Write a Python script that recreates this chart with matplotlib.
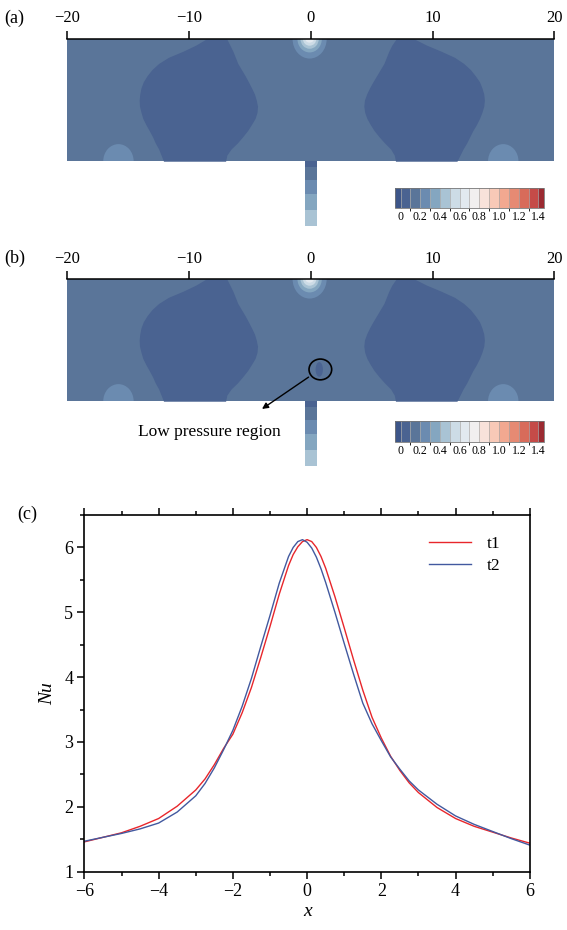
import matplotlib
matplotlib.use('Agg')
import matplotlib.pyplot as plt
from matplotlib.colors import ListedColormap, BoundaryNorm
from matplotlib.patches import Ellipse, Rectangle
from matplotlib.cm import ScalarMappable
from matplotlib.ticker import MultipleLocator

plt.rcParams['font.family'] = ['Liberation Serif', 'DejaVu Serif']

# pressure colour scale
levels = [0.0, 0.1, 0.2, 0.3, 0.4, 0.5, 0.6, 0.7, 0.8, 0.9, 1.0, 1.1, 1.2, 1.3, 1.4]
level_colors = ['#4a6391', '#5a7599', '#6b8bb0', '#84a6c0', '#a9c3d4', '#cddce6', '#e2e9ef',
                '#f1efef', '#f8e2da', '#f8c9b7', '#f2a890', '#e68a73', '#d86b5a', '#c54b48']
under_color = '#3d5689'
over_color = '#9b2a31'
cbar_ticks = [0, 0.2, 0.4, 0.6, 0.8, 1.0, 1.2, 1.4]
cbar_labels = ['0', '0.2', '0.4', '0.6', '0.8', '1.0', '1.2', '1.4']

# pressure field of (a) and (b), read as regions of constant level
domain_x = [-20, 20]
domain_h = 10
background_p = 0.15

jet_x = [-0.5, 0.5]
jet_edges = [0, -0.5, -1.5, -2.7, -4.0, -5.3]
jet_p = [0.05, 0.15, 0.25, 0.35, 0.45]

lobe_p = 0.05
lobe_y = [0.0, 0.5, 1.0, 1.5, 2.0, 2.5, 3.0, 3.5, 4.0, 4.5, 5.0,
          5.5, 6.0, 6.5, 7.0, 7.5, 8.0, 8.5, 9.0, 9.5, 10.0]
left_lobe_xl = [-12.1, -12.3, -12.5, -12.78, -13.0, -13.27, -13.55, -13.8, -13.95, -14.07, -14.1,
                -14.05, -13.95, -13.76, -13.45, -13.05, -12.5, -11.7, -10.5, -9.45, -8.6]
left_lobe_xr = [-7.0, -6.9, -6.55, -6.03, -5.6, -5.2, -4.88, -4.58, -4.42, -4.38, -4.48,
                -4.63, -4.87, -5.13, -5.4, -5.7, -6.0, -6.2, -6.4, -6.65, -6.9]
right_lobe_xl = [6.95, 6.85, 6.55, 6.05, 5.6, 5.2, 4.88, 4.6, 4.42, 4.35, 4.4,
                 4.58, 4.82, 5.1, 5.4, 5.7, 6.0, 6.2, 6.4, 6.65, 7.0]
right_lobe_xr = [12.0, 12.25, 12.5, 12.8, 13.05, 13.3, 13.6, 13.85, 14.05, 14.2, 14.25,
                 14.2, 14.05, 13.85, 13.5, 13.1, 12.55, 11.8, 10.7, 9.5, 8.5]

corner_x = [-15.8, 15.8]
corner_w = 2.5
corner_h = 2.8
corner_p = 0.25

stag_x = -0.1
stag_w = [2.8, 2.0, 1.5, 1.1, 0.7]
stag_h = [3.2, 2.2, 1.6, 1.1, 0.6]
stag_p = [0.25, 0.35, 0.45, 0.55, 0.65]

low_x, low_y = 0.69, 2.6
low_w, low_h = 0.6, 1.2
low_p = 0.05

# Nu along the wall (c)
nu_x = [-6, -5.5, -5, -4.5, -4, -3.5, -3, -2.75, -2.5, -2.25, -2, -1.75, -1.5, -1.25, -1, -0.75,
        -0.5, -0.375, -0.25, -0.125, 0, 0.125, 0.25, 0.375, 0.5, 0.75, 1, 1.25, 1.5, 1.75,
        2, 2.25, 2.5, 2.75, 3, 3.5, 4, 4.5, 5, 5.5, 6]
nu_t1 = [1.46, 1.53, 1.60, 1.70, 1.82, 2.01, 2.26, 2.43, 2.65, 2.90, 3.12, 3.45, 3.84, 4.30, 4.78, 5.28,
         5.72, 5.89, 6.01, 6.09, 6.12, 6.09, 6.00, 5.86, 5.68, 5.24, 4.76, 4.27, 3.80, 3.38,
         3.06, 2.78, 2.56, 2.37, 2.22, 1.99, 1.82, 1.70, 1.61, 1.52, 1.44]
nu_t2 = [1.47, 1.53, 1.59, 1.66, 1.75, 1.92, 2.17, 2.36, 2.60, 2.88, 3.18, 3.55, 3.98, 4.47, 4.95, 5.45,
         5.86, 6.00, 6.09, 6.12, 6.08, 5.99, 5.85, 5.67, 5.46, 5.00, 4.52, 4.05, 3.60, 3.28,
         3.02, 2.77, 2.58, 2.40, 2.26, 2.04, 1.86, 1.73, 1.62, 1.51, 1.41]

cmap = ListedColormap(level_colors)
cmap.set_under(under_color)
cmap.set_over(over_color)
norm = BoundaryNorm(levels, cmap.N)


def pcol(p):
    return cmap(norm(p))


def draw_field(ax, low_spot=False):
    dom = Rectangle((domain_x[0], 0), domain_x[1] - domain_x[0], domain_h, transform=ax.transData)
    ax.fill_between(domain_x, 0, domain_h, color=pcol(background_p), lw=0)
    for cx in corner_x:
        e = Ellipse((cx, 0), corner_w, corner_h, color=pcol(corner_p), lw=0)
        ax.add_patch(e)
        e.set_clip_path(dom)
    ax.fill_betweenx(lobe_y, left_lobe_xl, left_lobe_xr, color=pcol(lobe_p), lw=0)
    ax.fill_betweenx(lobe_y, right_lobe_xl, right_lobe_xr, color=pcol(lobe_p), lw=0)
    for w, h, p in zip(stag_w, stag_h, stag_p):
        e = Ellipse((stag_x, domain_h), w, h, color=pcol(p), lw=0)
        ax.add_patch(e)
        e.set_clip_path(dom)
    for i in range(len(jet_p)):
        ax.fill_between(jet_x, jet_edges[i], jet_edges[i + 1], color=pcol(jet_p[i]), lw=0)
    if low_spot:
        ax.add_patch(Ellipse((low_x, low_y), low_w, low_h, color=pcol(low_p), lw=0))

    ax.set_xlim(domain_x)
    ax.set_ylim(jet_edges[-1], domain_h)
    for s in ['left', 'right', 'bottom']:
        ax.spines[s].set_visible(False)
    ax.spines['top'].set_linewidth(1.1)
    ax.xaxis.tick_top()
    ax.set_xticks([-20, -10, 0, 10, 20])
    ax.set_yticks([])
    ax.tick_params(axis='x', direction='out', length=6, width=1.1, labelsize=12, pad=3)


def draw_cbar(fig, rect):
    cax = fig.add_axes(rect)
    cb = fig.colorbar(ScalarMappable(norm=norm, cmap=cmap), cax=cax, orientation='horizontal',
                      extend='both', extendrect=True, extendfrac=0.04, drawedges=True,
                      ticks=cbar_ticks)
    cb.set_ticklabels(cbar_labels)
    cb.outline.set_edgecolor('#777777')
    cb.outline.set_linewidth(0.6)
    cb.dividers.set_color('#aaaaaa')
    cb.dividers.set_linewidth(0.5)
    cax.tick_params(length=0, labelsize=8.5, pad=2)


W, H = 567, 930
fig = plt.figure(figsize=(W / 100, H / 100), dpi=100)

# (a)
ax_a = fig.add_axes([67.3 / W, 1 - 226 / H, 487.1 / W, 187 / H])
draw_field(ax_a)
draw_cbar(fig, [395 / W, 1 - 208 / H, 149 / W, 20 / H])
fig.text(4 / W, 1 - 18 / H, '(a)', fontsize=13, va='center', ha='left')

# (b)
ax_b = fig.add_axes([67.3 / W, 1 - 466 / H, 487.1 / W, 187 / H])
draw_field(ax_b, low_spot=True)
ax_b.add_patch(Ellipse((0.78, low_y), 1.86, 1.7, fill=False, edgecolor='black', lw=1.2))
ax_b.annotate('', xy=(-4.2, -0.76), xytext=(0.0, 2.1),
              arrowprops=dict(arrowstyle='-|>', color='black', lw=1.0, mutation_scale=9),
              annotation_clip=False)
ax_b.text(-8.33, -2.55, 'Low pressure region', fontsize=12.5, ha='center', va='center')
draw_cbar(fig, [395 / W, 1 - 442 / H, 149 / W, 21 / H])
fig.text(4 / W, 1 - 258 / H, '(b)', fontsize=13, va='center', ha='left')

# (c)
ax_c = fig.add_axes([84.4 / W, 1 - 871.7 / H, 445.4 / W, 356.7 / H])
ax_c.plot(nu_x, nu_t1, color='#e8262b', lw=1.0, label='t1')
ax_c.plot(nu_x, nu_t2, color='#42599f', lw=1.0, label='t2')
ax_c.set_xlim(-6, 6)
ax_c.set_ylim(1, 6.5)
ax_c.set_xticks([-6, -4, -2, 0, 2, 4, 6])
ax_c.set_yticks([1, 2, 3, 4, 5, 6])
ax_c.xaxis.set_minor_locator(MultipleLocator(1))
ax_c.yaxis.set_minor_locator(MultipleLocator(0.5))
ax_c.tick_params(which='both', direction='out', top=True, right=False, labelsize=13, width=1.1)
ax_c.tick_params(which='major', length=5, pad=3)
ax_c.tick_params(which='minor', length=3)
for s in ax_c.spines.values():
    s.set_linewidth(1.2)
ax_c.set_xlabel('x', fontsize=14, style='italic', labelpad=2)
ax_c.set_ylabel('Nu', fontsize=14, style='italic', labelpad=6)
ax_c.legend(frameon=False, loc='upper left', bbox_to_anchor=(0.774, 0.941), borderaxespad=0,
            borderpad=0, handlelength=2.4, handletextpad=0.9, labelspacing=0.35, fontsize=12.5)
fig.text(17 / W, 1 - 514 / H, '(c)', fontsize=13, va='center', ha='left')

fig.savefig('out.png', dpi=100)
